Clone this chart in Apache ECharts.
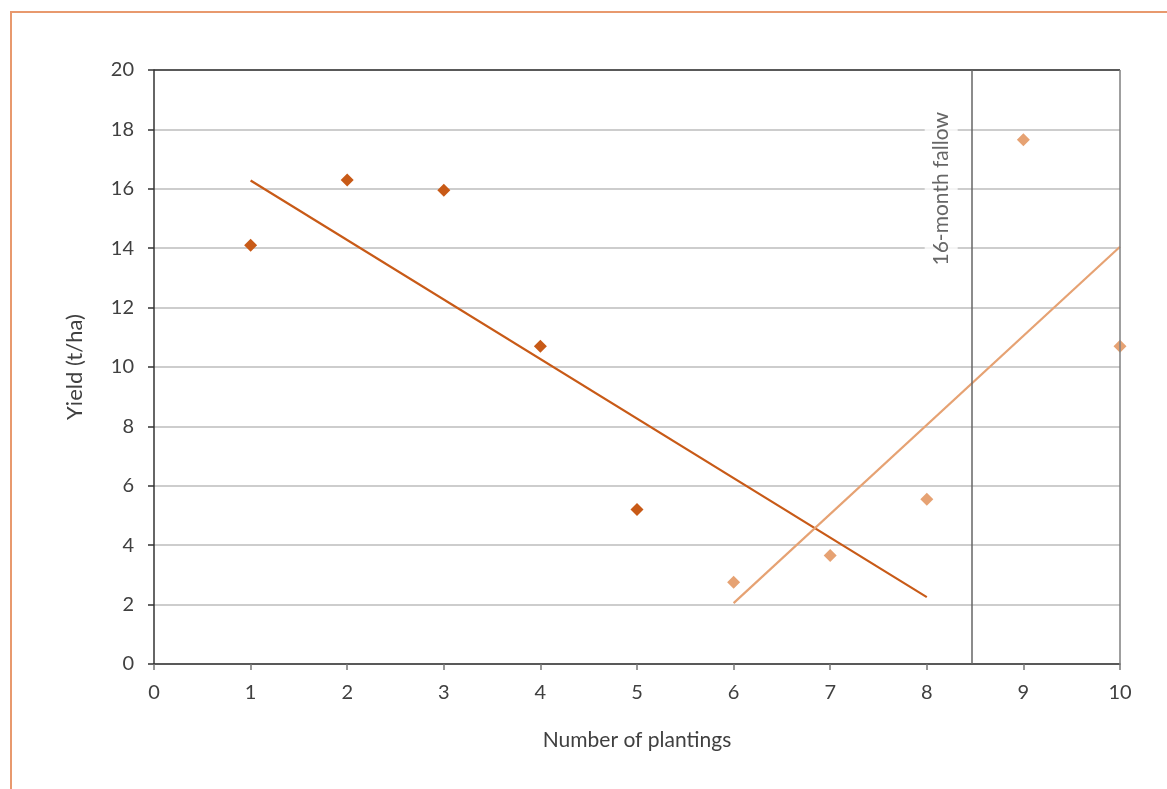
<!DOCTYPE html>
<html>
<head>
<meta charset="utf-8">
<script src="https://cdn.jsdelivr.net/npm/echarts@6/dist/echarts.min.js"></script>
<style>
  html, body { margin: 0; padding: 0; background: #ffffff; }
  #frame {
    position: absolute; left: 10px; top: 11px; right: 0; bottom: 0;
    border-top: 2px solid #E8996E; border-left: 2px solid #E8996E;
  }
  #chart { position: absolute; left: 0; top: 0; width: 1167px; height: 789px; }
</style>
</head>
<body>
<div id="frame"></div>
<div id="chart"></div>
<script>
// Yield per planting, before the fallow break (plantings 1-5)
const earlyPlantings = [1, 2, 3, 4, 5];
const earlyYield = [14.1, 16.3, 15.95, 10.7, 5.2];

// Yield per planting, later plantings (6-10)
const latePlantings = [6, 7, 8, 9, 10];
const lateYield = [2.75, 3.65, 5.55, 17.65, 10.7];

// Linear trend lines (end points)
const trendEarlyX = [1, 8];
const trendEarlyY = [16.28, 2.25];
const trendLateX = [6, 10];
const trendLateY = [2.05, 14.05];

// Fallow marker
const fallowAt = 8.47;
const fallowText = '16-month fallow';
const fallowLabelY = 16;

const xTicks = [0, 10, 1];   // min, max, step
const yTicks = [0, 20, 2];

const DARK = '#C85A17';
const LIGHT = '#E6A273';
const TEXT = '#404040';
const FONT = 'Lato';

const zip = (xs, ys) => xs.map((x, i) => [x, ys[i]]);

const chart = echarts.init(document.getElementById('chart'), null, { renderer: 'canvas' });

chart.setOption({
  animation: false,
  backgroundColor: 'transparent',
  textStyle: { fontFamily: FONT },
  grid: { left: 154, right: 47, top: 70, bottom: 125, containLabel: false },
  xAxis: {
    type: 'value',
    min: xTicks[0], max: xTicks[1], interval: xTicks[2],
    name: 'Number of plantings',
    nameLocation: 'middle',
    nameGap: 66,
    nameTextStyle: { fontFamily: FONT, fontSize: 21, color: TEXT },
    axisLine: { show: true, lineStyle: { color: '#333333', width: 1.5 } },
    axisTick: { show: true, length: 6, lineStyle: { color: '#777777', width: 1.5 } },
    axisLabel: { fontFamily: FONT, fontSize: 20, color: TEXT, margin: 19 },
    splitLine: { show: false }
  },
  yAxis: {
    type: 'value',
    min: yTicks[0], max: yTicks[1], interval: yTicks[2],
    name: 'Yield (t/ha)',
    nameLocation: 'middle',
    nameGap: 68,
    nameRotate: 90,
    nameTextStyle: { fontFamily: FONT, fontSize: 22, color: TEXT },
    axisLine: { show: true, lineStyle: { color: '#333333', width: 1.5 } },
    axisTick: { show: true, length: 6, lineStyle: { color: '#333333', width: 1.5 } },
    axisLabel: { fontFamily: FONT, fontSize: 20, color: TEXT, margin: 20 },
    splitLine: { show: true, lineStyle: { color: '#BDBDBD', width: 1.5 } }
  },
  series: [
    {
      name: 'frame',
      type: 'line',
      data: [],
      silent: true,
      markLine: {
        symbol: 'none',
        silent: true,
        animation: false,
        label: { show: false },
        data: [
          [{ coord: [xTicks[0], yTicks[1]], lineStyle: { color: '#333333', width: 1.5, type: 'solid' } },
           { coord: [xTicks[1], yTicks[1]] }],
          [{ coord: [xTicks[1], yTicks[0]], lineStyle: { color: '#7F7F7F', width: 1.5, type: 'solid' } },
           { coord: [xTicks[1], yTicks[1]] }],
          [{ coord: [fallowAt, yTicks[0]], lineStyle: { color: '#666666', width: 1.5, type: 'solid' } },
           { coord: [fallowAt, yTicks[1]] }]
        ]
      }
    },
    {
      name: 'Trend (plantings 1-8)',
      type: 'line',
      data: zip(trendEarlyX, trendEarlyY),
      symbol: 'none',
      lineStyle: { color: DARK, width: 2.2 },
      z: 3
    },
    {
      name: 'Trend (plantings 6-10)',
      type: 'line',
      data: zip(trendLateX, trendLateY),
      symbol: 'none',
      lineStyle: { color: LIGHT, width: 2.2 },
      z: 3
    },
    {
      name: 'Plantings 1-5',
      type: 'scatter',
      data: zip(earlyPlantings, earlyYield),
      symbol: 'diamond',
      symbolSize: 13,
      itemStyle: { color: DARK, opacity: 1 },
      z: 4
    },
    {
      name: 'Plantings 6-10',
      type: 'scatter',
      data: zip(latePlantings, lateYield),
      symbol: 'diamond',
      symbolSize: 13,
      itemStyle: { color: LIGHT, opacity: 1 },
      z: 4
    },
    {
      name: 'fallow label',
      type: 'scatter',
      data: [[fallowAt, fallowLabelY]],
      symbolSize: 0,
      silent: true,
      z: 5,
      label: {
        show: true,
        formatter: fallowText,
        position: 'inside',
        rotate: 90,
        offset: [0, -31],
        fontFamily: FONT,
        fontSize: 21,
        color: TEXT,
        backgroundColor: '#ffffff',
        padding: [6, 9]
      }
    }
  ]
});
</script>
</body>
</html>
